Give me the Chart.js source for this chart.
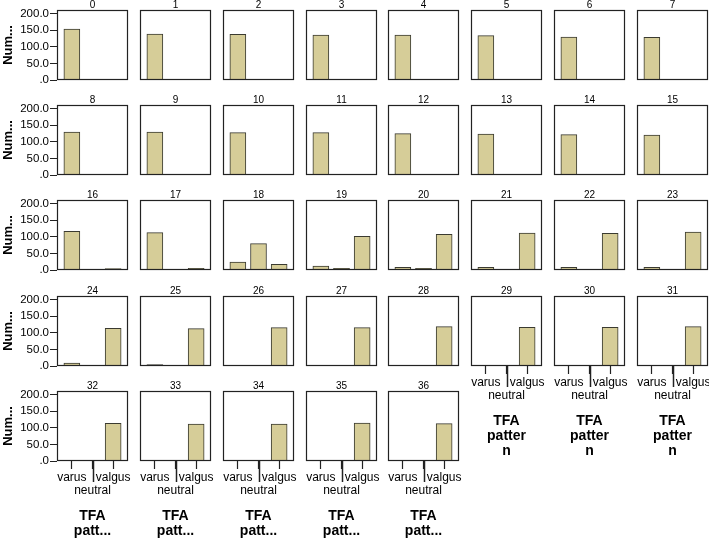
<!DOCTYPE html>
<html>
<head>
<meta charset="utf-8">
<script src="https://cdn.jsdelivr.net/npm/chart.js@4.4.1/dist/chart.umd.min.js"></script>
<style>
  html, body { margin: 0; padding: 0; background: #fff; }
  #wrap { position: relative; width: 709px; height: 542px; overflow: hidden; }
  #wrap canvas { position: absolute; }
</style>
</head>
<body>
<div id="wrap"></div>
<script>
// categories on the x axis of every small panel
const categories = ['varus', 'neutral', 'valgus'];
// panel labels, one per small chart
const panels = ['0','1','2','3','4','5','6','7','8','9','10','11','12','13','14','15','16','17','18',
  '19','20','21','22','23','24','25','26','27','28','29','30','31','32','33','34','35','36'];
// counts, per panel
const varus   = [153,138,137,135,135,133,129,128, 129,129,127,127,124,123,121,120, 116,112,24,12,8,8,8,8, 9,4,2,2,0,0,0,0, 0,0,0,0,0];
const neutral = [0,0,0,0,0,0,0,0, 0,0,0,0,0,0,0,0, 2,2,79,5,5,2,2,2, 2,2,2,0,2,0,2,0, 2,0,0,0,0];
const valgus  = [0,0,0,0,0,0,0,0, 0,0,0,0,0,0,0,2, 4,5,17,101,107,111,110,114, 113,112,115,115,118,116,116,118, 113,111,111,114,112];
const yTicks = [0, 50, 100, 150, 200];
const series = [varus, neutral, valgus];

// layout
const colLeft = [57, 140, 223, 306, 388, 471, 554, 637];
const rowTop = [9, 104, 199, 295, 390];
const boxW = 71, boxH = 71, padL = 57, padT = 12, padR = 8, padB = 8;

Chart.defaults.font.family = '"Liberation Sans", Arial, sans-serif';
Chart.defaults.color = '#000';

const frame = {
  id: 'frame',
  afterDraw(chart, args, opts) {
    const { ctx, chartArea: a, scales } = chart;
    ctx.save();
    ctx.strokeStyle = '#222';
    ctx.lineWidth = 1.2;
    ctx.strokeRect(a.left + 0.5, a.top + 0.5, a.width - 1, a.height - 1);
    if (opts.axis) {
      const x = Math.round(scales.x.getPixelForValue(1)) + 0.5;
      ctx.lineWidth = 1.5;
      ctx.beginPath();
      ctx.moveTo(x, a.bottom);
      ctx.lineTo(x, a.bottom + 21);
      ctx.stroke();
    }
    ctx.restore();
  }
};

const wrap = document.getElementById('wrap');

panels.forEach((label, i) => {
  const r = Math.floor(i / 8), c = i % 8;
  const isBottom = r === 4 || (r === 3 && c >= 5);
  const bottomH = isBottom ? (c >= 5 ? 93 : 78) : 0;
  const extraB = isBottom ? 0 : padB;
  const axisTitle = c >= 5 ? ['TFA', 'patter', 'n'] : ['TFA', 'patt...'];

  const cv = document.createElement('canvas');
  cv.width = padL + boxW + padR;
  cv.height = padT + boxH + bottomH + extraB;
  cv.style.left = (colLeft[c] - padL) + 'px';
  cv.style.top = (rowTop[r] - padT) + 'px';
  wrap.appendChild(cv);

  new Chart(cv, {
    type: 'bar',
    data: {
      datasets: [{
        data: categories.map((cat, k) => ({ x: k, y: series[k][i] })),
        backgroundColor: '#D6CD98',
        borderColor: '#3a3a30',
        borderWidth: 1,
        barThickness: 16,
      }],
    },
    options: {
      responsive: false, animation: false, devicePixelRatio: 1,
      layout: { padding: { left: 0, top: 0, bottom: extraB, right: padR } },
      plugins: {
        legend: { display: false },
        tooltip: { enabled: false },
        title: {
          display: true, text: label, fullSize: false, color: '#000',
          font: { size: 10, weight: 'normal', lineHeight: 1 }, padding: { top: 3, bottom: 0 },
        },
        frame: { axis: isBottom },
      },
      scales: {
        x: {
          type: 'linear', min: -0.72, max: 2.72, offset: false,
          afterBuildTicks: s => { s.ticks = categories.map((cat, k) => ({ value: k })); },
          afterFit: s => { s.height = bottomH; s.paddingLeft = 0; s.paddingRight = 0; },
          border: { display: false },
          grid: { display: isBottom, offset: false, drawOnChartArea: false, drawTicks: true, tickLength: 8, color: '#222', tickWidth: 1.2 },
          ticks: {
            display: isBottom, autoSkip: false, maxRotation: 0, minRotation: 0, padding: 2,
            font: { size: 12, lineHeight: 1.08 },
            callback: v => v === 1 ? ['', categories[v]] : categories[v],
          },
          title: {
            display: isBottom, text: axisTitle,
            font: { size: 14, weight: 'bold', lineHeight: 1.07 }, padding: 0,
          },
        },
        y: {
          min: 0, max: 210,
          afterBuildTicks: s => { s.ticks = yTicks.map(v => ({ value: v })); },
          afterFit: s => { s.width = padL; s.paddingTop = 0; s.paddingBottom = 0; },
          border: { display: false },
          grid: { display: c === 0, drawOnChartArea: false, tickLength: 7, color: '#222' },
          ticks: {
            display: c === 0, autoSkip: false, padding: 1, font: { size: 11.5 },
            callback: v => v === 0 ? '.0' : v.toFixed(1),
          },
          title: {
            display: c === 0, text: 'Num...',
            font: { size: 13, weight: 'bold' }, padding: { top: 1, bottom: 0 },
          },
        },
      },
    },
    plugins: [frame],
  });
});
</script>
</body>
</html>
